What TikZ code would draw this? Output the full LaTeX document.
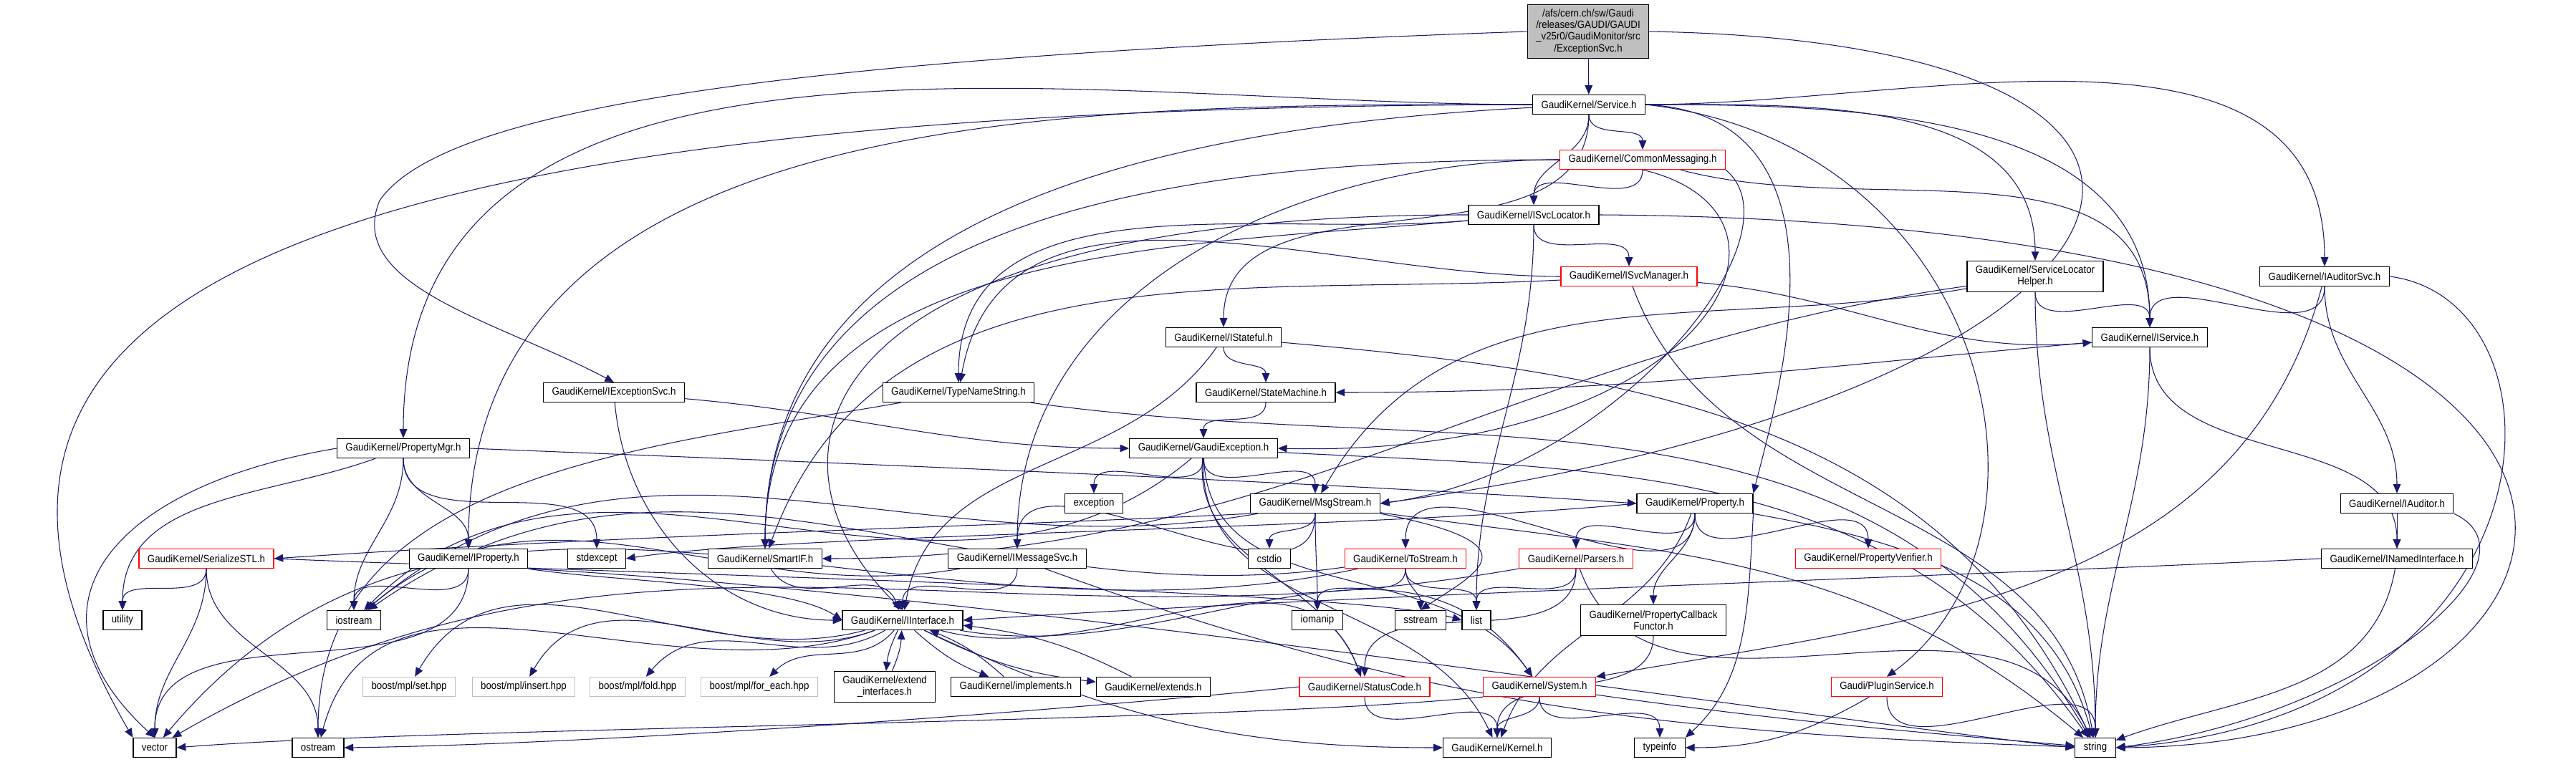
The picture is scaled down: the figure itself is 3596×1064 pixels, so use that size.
\documentclass[tikz,border=0pt]{standalone}
\usepackage{fontspec}
\newfontfamily\dxfont{Liberation Sans}[FakeStretch=0.9]
\newcommand\dxsize{\fontsize{4.2pt}{4.6pt}\selectfont}
\usetikzlibrary{arrows.meta,backgrounds}
\definecolor{depblue}{HTML}{191970}
\definecolor{boxgray}{HTML}{BFBFBF}
\tikzset{
  hdr/.style={draw=black, fill=white, line width=0.35pt, font=\dxfont\dxsize, inner xsep=3.4pt, inner ysep=0.6pt, minimum height=7.7pt},
  trunc/.style={hdr, draw=red},
  sysinc/.style={hdr, draw=boxgray},
  twoline/.style={align=center, minimum height=12.2pt},
  dep/.style={-{Triangle[length=3.6pt, width=3pt]}, draw=depblue, line width=0.3pt},
  vdrop/.style={out=-90, in=90}
}
\begin{document}
\begin{tikzpicture}[x=0.01cm, y=0.01cm]
\useasboundingbox (0,0) rectangle (3596,-1064);
\node[hdr, fill=boxgray, align=center, minimum height=21.3pt] (root) at (2217,-44) {/afs/cern.ch/sw/Gaudi\\/releases/GAUDI/GAUDI\\\_v25r0/GaudiMonitor/src\\/ExceptionSvc.h};
\node[hdr] (service) at (2218,-146) {GaudiKernel/Service.h};
\node[trunc] (commsg) at (2293,-223) {GaudiKernel/CommonMessaging.h};
\node[hdr] (isvcloc) at (2141,-300) {GaudiKernel/ISvcLocator.h};
\node[trunc] (isvcmgr) at (2274,-386) {GaudiKernel/ISvcManager.h};
\node[hdr, twoline] (slhelper) at (2841,-386) {GaudiKernel/ServiceLocator\\Helper.h};
\node[hdr] (iauditsvc) at (3245,-386) {GaudiKernel/IAuditorSvc.h};
\node[hdr] (istateful) at (1708,-471) {GaudiKernel/IStateful.h};
\node[hdr] (iservice) at (3001,-471) {GaudiKernel/IService.h};
\node[hdr] (typename) at (1338,-548) {GaudiKernel/TypeNameString.h};
\node[hdr] (statemach) at (1767,-548) {GaudiKernel/StateMachine.h};
\node[hdr] (iexcsvc) at (857,-548) {GaudiKernel/IExceptionSvc.h};
\node[hdr] (propmgr) at (563,-626) {GaudiKernel/PropertyMgr.h};
\node[hdr] (gaudiexc) at (1680,-626) {GaudiKernel/GaudiException.h};
\node[hdr] (exception) at (1527,-703) {exception};
\node[hdr] (msgstream) at (1836,-703) {GaudiKernel/MsgStream.h};
\node[hdr] (property) at (2366,-703) {GaudiKernel/Property.h};
\node[hdr] (iauditor) at (3346,-703) {GaudiKernel/IAuditor.h};
\node[trunc] (serialize) at (288,-780) {GaudiKernel/SerializeSTL.h};
\node[hdr] (iproperty) at (654,-780) {GaudiKernel/IProperty.h};
\node[hdr] (stdexcept) at (833,-780) {stdexcept};
\node[hdr] (smartif) at (1068,-780) {GaudiKernel/SmartIF.h};
\node[hdr] (imsgsvc) at (1420,-780) {GaudiKernel/IMessageSvc.h};
\node[hdr] (cstdio) at (1772,-780) {cstdio};
\node[trunc] (tostream) at (1962,-780) {GaudiKernel/ToStream.h};
\node[trunc] (parsers) at (2200,-780) {GaudiKernel/Parsers.h};
\node[trunc] (propverif) at (2608,-780) {GaudiKernel/PropertyVerifier.h};
\node[hdr] (inamed) at (3346,-780) {GaudiKernel/INamedInterface.h};
\node[hdr] (utility) at (171,-866) {utility};
\node[hdr] (iostream) at (494,-866) {iostream};
\node[hdr] (iinterface) at (1260,-866) {GaudiKernel/IInterface.h};
\node[hdr] (iomanip) at (1839,-866) {iomanip};
\node[hdr] (sstream) at (1983,-866) {sstream};
\node[hdr] (list) at (2061,-866) {list};
\node[hdr, twoline] (propcb) at (2308,-866) {GaudiKernel/PropertyCallback\\Functor.h};
\node[sysinc] (mplset) at (571,-959) {boost/mpl/set.hpp};
\node[sysinc] (mplinsert) at (731,-959) {boost/mpl/insert.hpp};
\node[sysinc] (mplfold) at (890,-959) {boost/mpl/fold.hpp};
\node[sysinc] (mplforeach) at (1060,-959) {boost/mpl/for\_each.hpp};
\node[hdr, twoline] (extendif) at (1235,-959) {GaudiKernel/extend\\\_interfaces.h};
\node[hdr] (implements) at (1418,-959) {GaudiKernel/implements.h};
\node[hdr] (extends) at (1610,-959) {GaudiKernel/extends.h};
\node[trunc] (statuscode) at (1905,-959) {GaudiKernel/StatusCode.h};
\node[trunc] (system) at (2149,-959) {GaudiKernel/System.h};
\node[trunc] (plugin) at (2634,-959) {Gaudi/PluginService.h};
\node[hdr] (vector) at (216,-1044) {vector};
\node[hdr] (ostream) at (444,-1044) {ostream};
\node[hdr] (kernel) at (2090,-1044) {GaudiKernel/Kernel.h};
\node[hdr] (typeinfo) at (2317,-1044) {typeinfo};
\node[hdr] (string) at (2925,-1044) {string};
\begin{scope}[on background layer]
\fill[white] (0,0) rectangle (3596,-1064);
\draw[dep] (root) -- (service);
\draw[dep] (root.west) .. controls (1100,-80) and (620,-150) .. (530,-280) .. controls (480,-400) and (700,-450) .. (iexcsvc.north);
\draw[dep] (root.east) .. controls (3250,-60) and (3050,-550) .. (msgstream.east);
\draw[dep] (service.west) .. controls (300,-150) and (-150,-450) .. (vector.north west);
\draw[dep] (service) to[out=180, in=90] (propmgr);
\draw[dep] (service) to[out=180, in=90] (iproperty);
\draw[dep] (service) to[out=183, in=90] (smartif);
\draw[dep] (service) to[vdrop] (commsg);
\draw[dep] (service) to[vdrop] (isvcloc);
\draw[dep] (service) to[vdrop] (istateful);
\draw[dep] (service) to[out=0, in=90] (slhelper);
\draw[dep] (service) to[out=0, in=90] (iservice);
\draw[dep] (service) to[out=0, in=90] (iauditsvc);
\draw[dep] (service.east) .. controls (2600,-160) and (2480,-560) .. (property.north east);
\draw[dep] (service.east) .. controls (2780,-200) and (2900,-750) .. (plugin.north);
\draw[dep] (commsg) to[vdrop] (isvcloc);
\draw[dep] (commsg) to[out=180, in=90] (smartif);
\draw[dep] (commsg) to[out=180, in=90] (imsgsvc);
\draw[dep] (commsg) to[out=-15, in=90] (iservice);
\draw[dep] (commsg.south east) .. controls (2520,-330) and (2250,-660) .. (msgstream.east);
\draw[dep] (commsg.south) .. controls (2560,-300) and (2380,-640) .. (gaudiexc.east);
\draw[dep] (isvcloc) to[vdrop] (isvcmgr);
\draw[dep] (isvcloc) to[out=185, in=90] (typename);
\draw[dep] (isvcloc) to[out=185, in=90] (smartif);
\draw[dep] (isvcloc.west) .. controls (1100,-300) and (1050,-650) .. (iinterface.north);
\draw[dep] (isvcloc) to[vdrop] (list);
\draw[dep] (isvcloc.east) .. controls (3900,-310) and (3700,-1040) .. (string.east);
\draw[dep] (isvcmgr) to[out=180, in=80] (typename);
\draw[dep] (isvcmgr) to[out=-5, in=185] (iservice);
\draw[dep] (isvcmgr) to[out=-70, in=100] (string);
\draw[dep] (isvcmgr) to[out=183, in=70] (smartif);
\draw[dep] (istateful) to[vdrop] (statemach);
\draw[dep] (istateful) to[out=-125, in=80] (iinterface);
\draw[dep] (istateful) to[out=-5, in=115] (string);
\draw[dep] (typename) to[out=-8, in=120] (string);
\draw[dep] (typename) to[out=190, in=90] (ostream);
\draw[dep] (statemach) to[vdrop] (gaudiexc);
\draw[dep] (slhelper) to[vdrop] (iservice);
\draw[dep] (slhelper) to[vdrop] (string);
\draw[dep] (slhelper) to[out=188, in=0] (smartif);
\draw[dep] (slhelper) to[out=190, in=60] (msgstream);
\draw[dep] (iauditsvc) to[vdrop] (iservice);
\draw[dep] (iauditsvc) to[vdrop] (iauditor);
\draw[dep] (iauditsvc) to[out=-105, in=10] (system);
\draw[dep] (iauditsvc.east) .. controls (3600,-420) and (3580,-1000) .. (string.east);
\draw[dep] (iauditor) -- (inamed);
\draw[dep] (iauditor.south east) .. controls (3560,-780) and (3300,-1000) .. (string.east);
\draw[dep] (inamed.west) .. controls (2600,-810) and (1900,-830) .. (iinterface.east);
\draw[dep] (inamed) to[out=-100, in=20] (string);
\draw[dep] (iservice) to[vdrop] (inamed);
\draw[dep] (iservice) to[out=185, in=0] (statemach);
\draw[dep] (iservice) to[vdrop] (string);
\draw[dep] (iexcsvc) to[out=-85, in=180] (iinterface);
\draw[dep] (iexcsvc) to[out=-5, in=180] (gaudiexc);
\draw[dep] (propmgr.west) .. controls (150,-680) and (20,-850) .. (vector.north);
\draw[dep] (propmgr) to[out=200, in=90] (utility);
\draw[dep] (propmgr) to[vdrop] (iostream);
\draw[dep] (propmgr) to[vdrop] (iproperty);
\draw[dep] (propmgr) to[vdrop] (stdexcept);
\draw[dep] (propmgr.east) .. controls (1000,-640) and (1800,-670) .. (property.west);
\draw[dep] (gaudiexc) to[vdrop] (exception);
\draw[dep] (gaudiexc) to[vdrop] (msgstream);
\draw[dep] (gaudiexc) to[out=-95, in=110] (statuscode);
\draw[dep] (gaudiexc) to[out=-88, in=125] (system);
\draw[dep] (gaudiexc) to[out=-92, in=115] (kernel);
\draw[dep] (gaudiexc) to[out=-3, in=125] (string);
\draw[dep] (gaudiexc) to[out=-140, in=45] (iostream);
\draw[dep] (msgstream) to[vdrop] (imsgsvc);
\draw[dep] (msgstream.south west) .. controls (1400,-735) and (900,-745) .. (serialize.east);
\draw[dep] (msgstream) to[vdrop] (cstdio);
\draw[dep] (msgstream) to[vdrop] (iomanip);
\draw[dep] (msgstream.south east) .. controls (2150,-760) and (2060,-800) .. (sstream.north);
\draw[dep] (msgstream) to[out=-8, in=140] (string);
\draw[dep] (msgstream) to[out=190, in=40] (iostream);
\draw[dep] (property.west) .. controls (1900,-740) and (1100,-745) .. (stdexcept.east);
\draw[dep] (property) to[vdrop] (tostream);
\draw[dep] (property) to[vdrop] (parsers);
\draw[dep] (property) to[vdrop] (propverif);
\draw[dep] (property) to[vdrop] (propcb);
\draw[dep] (property.south east) .. controls (2440,-850) and (2440,-950) .. (typeinfo.north east);
\draw[dep] (property) to[out=-110, in=70] (kernel);
\draw[dep] (property) to[out=-10, in=105] (string);
\draw[dep] (serialize) to[vdrop] (utility);
\draw[dep] (serialize) to[vdrop] (vector);
\draw[dep] (serialize) to[vdrop] (ostream);
\draw[dep] (serialize.east) .. controls (1000,-805) and (1900,-825) .. (list.west);
\draw[dep] (iproperty) to[vdrop] (vector);
\draw[dep] (iproperty) to[vdrop] (iostream);
\draw[dep] (iproperty.south east) .. controls (850,-812) and (1100,-815) .. (iinterface.west);
\draw[dep] (iproperty.south east) .. controls (1400,-830) and (2500,-1000) .. (string.west);
\draw[dep] (smartif) to[out=-60, in=110] (iinterface);
\draw[dep] (imsgsvc) to[vdrop] (iinterface);
\draw[dep] (imsgsvc) to[out=190, in=40] (iostream);
\draw[dep] (imsgsvc) to[out=-20, in=178] (string);
\draw[dep] (tostream) to[vdrop] (iomanip);
\draw[dep] (tostream) to[vdrop] (sstream);
\draw[dep] (tostream) to[vdrop] (list);
\draw[dep] (tostream) to[out=188, in=35] (iostream);
\draw[dep] (tostream) to[out=192, in=50] (vector);
\draw[dep] (parsers) to[vdrop] (list);
\draw[dep] (parsers) to[vdrop] (statuscode);
\draw[dep] (parsers) to[out=-70, in=115] (string);
\draw[dep] (parsers) to[out=190, in=30] (vector);
\draw[dep] (propcb) to[vdrop] (kernel);
\draw[dep] (iinterface) to[out=-165, in=60] (mplset);
\draw[dep] (iinterface) to[out=-160, in=60] (mplinsert);
\draw[dep] (iinterface) to[out=-150, in=50] (mplfold);
\draw[dep] (iinterface) to[out=-130, in=45] (mplforeach);
\draw[dep] (iinterface) to[bend right=10] (extendif);
\draw[dep] (extendif) to[bend right=10] (iinterface);
\draw[dep] (iinterface) to[bend right=10] (implements);
\draw[dep] (implements) to[bend right=10] (iinterface);
\draw[dep] (iinterface) to[bend right=10] (extends);
\draw[dep] (extends) to[bend right=10] (iinterface);
\draw[dep] (iinterface) to[out=-15, in=110] (statuscode);
\draw[dep] (iinterface) to[out=-10, in=125] (system);
\draw[dep] (iinterface) to[out=-25, in=180] (kernel);
\draw[dep] (iinterface) to[out=-160, in=75] (ostream);
\draw[dep] (statuscode) to[vdrop] (kernel);
\draw[dep] (statuscode.west) .. controls (1400,-1000) and (800,-1040) .. (ostream.east);
\draw[dep] (system) to[vdrop] (kernel);
\draw[dep] (system) to[vdrop] (typeinfo);
\draw[dep] (system) to[out=-8, in=175] (string);
\draw[dep] (system.south west) .. controls (1700,-1010) and (600,-1015) .. (vector.east);
\draw[dep] (plugin) to[out=-150, in=0] (typeinfo);
\draw[dep] (plugin) to[vdrop] (string);
\end{scope}
\end{tikzpicture}
\end{document}
